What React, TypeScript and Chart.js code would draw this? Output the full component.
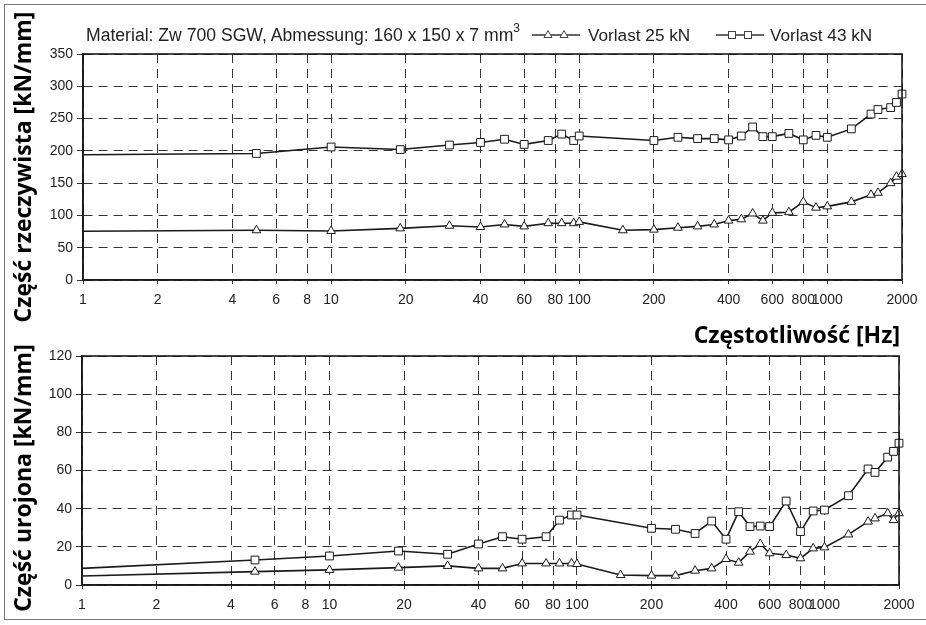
import React, { useEffect, useRef } from "react";
import { Chart, registerables } from "chart.js";

Chart.register(...registerables);

// ---------- data ----------
const freq = [1, 5, 10, 19, 30, 40, 50, 60, 75, 85, 95, 100, 150, 200, 250, 300, 350, 400, 450, 500, 550, 600, 700, 800, 900, 1000, 1250, 1500, 1600, 1800, 1900, 2000];

const real25 = [75.5, 77, 76, 80, 84, 82, 86, 83, 88, 88, 88, 90, 77, 78, 81, 83, 86, 92, 94, 103, 92, 104, 105, 121, 112, 114, 121, 132, 135, 150, 160, 164];
const real43 = [194, 196, 206, 202, 209, 213, 218, 210, 216, 226, 216, 223, null, 216, 221, 219, 219, 217, 223, 237, 222, 222, 227, 217, 224, 221, 234, 257, 264, 267, 275, 288];

const imag25 = [4.7, 7, 7.9, 9.1, 10, 8.7, 8.7, 11.3, 11.3, 11.3, 11.3, 11, 5.2, 4.9, 4.9, 7.5, 8.7, 13.6, 11.7, 17.5, 21.5, 16.6, 15.7, 14, 19.2, 19.7, 26.5, 33.2, 34.9, 37.6, 34, 37.6];
const imag43 = [8.7, 13.1, 15.2, 17.8, 16.1, 21.5, 25.3, 24, 25.3, 34, 36.7, 36.7, null, 29.7, 29.2, 27, 33.5, 24, 38.4, 30.6, 30.9, 30.6, 44, 28, 38.8, 39.3, 46.8, 60.8, 59, 67, 70, 74.3];

const xTicks = [1, 2, 4, 6, 8, 10, 20, 40, 60, 80, 100, 200, 400, 600, 800, 1000, 2000];

const seriesLabels = ["Vorlast 25 kN", "Vorlast 43 kN"];
const titleText = "Material: Zw 700 SGW, Abmessung: 160 x 150 x 7 mm";
const yTitleTop = "Część rzeczywista [kN/mm]";
const yTitleBottom = "Część urojona [kN/mm]";
const xTitle = "Częstotliwość [Hz]";

// ---------- helpers ----------
const toPoints = (vals: (number | null)[]) =>
  freq
    .map((f, i) => ({ x: f, y: vals[i] }))
    .filter((p) => p.y !== null) as { x: number; y: number }[];

const INK = "#1a1a1a";
const TICK_FONT = { family: "'Liberation Sans', Arial, sans-serif", size: 14 };

const framePlugin = {
  id: "frame",
  afterDraw(chart: any) {
    const { ctx, chartArea } = chart;
    const { left, top, right, bottom } = chartArea;
    ctx.save();
    ctx.strokeStyle = INK;
    ctx.lineWidth = 1.6;
    ctx.strokeRect(left, top, right - left, bottom - top);
    ctx.restore();
  },
};

function makeDataset(label: string, vals: (number | null)[], style: string, radius: number) {
  return {
    label,
    data: toPoints(vals),
    borderColor: INK,
    borderWidth: 1.6,
    pointStyle: style,
    pointRadius: (ctx: any) => (ctx.raw && ctx.raw.x === 1 ? 0 : radius),
    pointBackgroundColor: "#ffffff",
    pointBorderColor: INK,
    pointBorderWidth: 1,
    tension: 0,
    clip: false as any,
  };
}

function makeOptions(yMax: number, step: number, padTop: number, padRight: number, yWidth: number) {
  return {
    responsive: false,
    animation: false as const,
    layout: { padding: { top: padTop, right: padRight, left: 0, bottom: 0 } },
    plugins: { legend: { display: false }, tooltip: { enabled: false }, title: { display: false } },
    scales: {
      x: {
        type: "logarithmic" as const,
        min: 1,
        max: 2000,
        afterBuildTicks: (scale: any) => {
          scale.ticks = xTicks.map((v) => ({ value: v }));
        },
        afterFit: (scale: any) => {
          scale.height = 30;
        },
        ticks: {
          autoSkip: false,
          maxRotation: 0,
          color: "#222",
          font: TICK_FONT,
          padding: 8,
          callback: (v: any) => String(v),
        },
        grid: { color: "#333", lineWidth: 1, drawTicks: true, tickLength: 4 },
        border: { display: true, color: INK, width: 1.6, dash: [9, 6] },
      },
      y: {
        min: 0,
        max: yMax,
        afterFit: (scale: any) => {
          scale.width = yWidth;
        },
        ticks: { stepSize: step, color: "#222", font: TICK_FONT, padding: 4 },
        grid: { color: "#333", lineWidth: 1, drawTicks: true, tickLength: 6 },
        border: { display: true, color: INK, width: 1.6, dash: [9, 6] },
      },
    },
  };
}

function PanelChart(props: {
  a: (number | null)[];
  b: (number | null)[];
  yMax: number;
  step: number;
  height: number;
  padTop: number;
  padRight: number;
  yWidth: number;
}) {
  const ref = useRef<HTMLCanvasElement>(null);
  useEffect(() => {
    if (!ref.current) return;
    const chart = new Chart(ref.current, {
      type: "line",
      data: {
        datasets: [
          makeDataset(seriesLabels[0], props.a, "triangle", 5),
          makeDataset(seriesLabels[1], props.b, "rect", 5.5),
        ] as any,
      },
      options: makeOptions(props.yMax, props.step, props.padTop, props.padRight, props.yWidth) as any,
      plugins: [framePlugin],
    });
    return () => chart.destroy();
  }, []);
  return <canvas ref={ref} width={926} height={props.height} style={{ display: "block" }} />;
}

function LegendSymbol({ kind }: { kind: "triangle" | "rect" }) {
  const marker = (cx: number) =>
    kind === "triangle" ? (
      <polygon points={`${cx - 4},${11.5} ${cx + 4},${11.5} ${cx},${4.5}`} fill="#fff" stroke="#444" strokeWidth={1} />
    ) : (
      <rect x={cx - 3.5} y={5.5} width={7} height={7} fill="#fff" stroke="#444" strokeWidth={1} />
    );
  return (
    <svg width={48} height={18} style={{ display: "block" }}>
      <line x1={0} y1={9} x2={48} y2={9} stroke="#333" strokeWidth={1.6} />
      {marker(16)}
      {marker(32)}
    </svg>
  );
}

const boldFont = "'Open Sans', 'Noto Sans', sans-serif";
const labelFont = "'Liberation Sans', Arial, sans-serif";

const textBase: React.CSSProperties = {
  position: "absolute",
  fontFamily: labelFont,
  color: "#222",
  whiteSpace: "nowrap",
  lineHeight: "22px",
};

const boldBase: React.CSSProperties = {
  position: "absolute",
  fontFamily: boldFont,
  fontWeight: 700,
  fontSize: 23,
  color: "#000",
  whiteSpace: "nowrap",
  lineHeight: "28px",
};

export default function App() {
  return (
    <div
      style={{
        position: "absolute",
        left: 0,
        top: 0,
        width: 926,
        height: 625,
        background: "#fff",
        overflow: "hidden",
      }}
    >
      {/* outer frame */}
      <div
        style={{
          position: "absolute",
          left: 4,
          top: 4,
          width: 940,
          height: 616,
          border: "1.5px solid #777",
          boxSizing: "border-box",
        }}
      />
      {/* top panel */}
      <div style={{ position: "absolute", left: 0, top: 0 }}>
        <PanelChart a={real25} b={real43} yMax={350} step={50} height={310} padTop={54} padRight={24} yWidth={83} />
      </div>
      {/* bottom panel */}
      <div style={{ position: "absolute", left: 0, top: 330 }}>
        <PanelChart a={imag25} b={imag43} yMax={120} step={20} height={285} padTop={26} padRight={27} yWidth={82} />
      </div>

      {/* title + legend */}
      <div style={{ ...textBase, left: 86, top: 24, fontSize: 17.6 }}>
        {titleText}
        <sup style={{ fontSize: 12, verticalAlign: "top", position: "relative", top: -7 }}>3</sup>
      </div>
      <div style={{ position: "absolute", left: 532, top: 26 }}>
        <LegendSymbol kind="triangle" />
      </div>
      <div style={{ ...textBase, left: 588, top: 24, fontSize: 17.2 }}>{seriesLabels[0]}</div>
      <div style={{ position: "absolute", left: 716, top: 26 }}>
        <LegendSymbol kind="rect" />
      </div>
      <div style={{ ...textBase, left: 770, top: 24, fontSize: 17.2 }}>{seriesLabels[1]}</div>

      {/* axis titles */}
      <div style={{ ...boldBase, left: 22, top: 167, transform: "translate(-50%, -50%) rotate(-90deg)" }}>
        {yTitleTop}
      </div>
      <div style={{ ...boldBase, left: 22, top: 478, transform: "translate(-50%, -50%) rotate(-90deg)" }}>
        {yTitleBottom}
      </div>
      <div style={{ ...boldBase, right: 26, top: 320 }}>{xTitle}</div>
    </div>
  );
}
